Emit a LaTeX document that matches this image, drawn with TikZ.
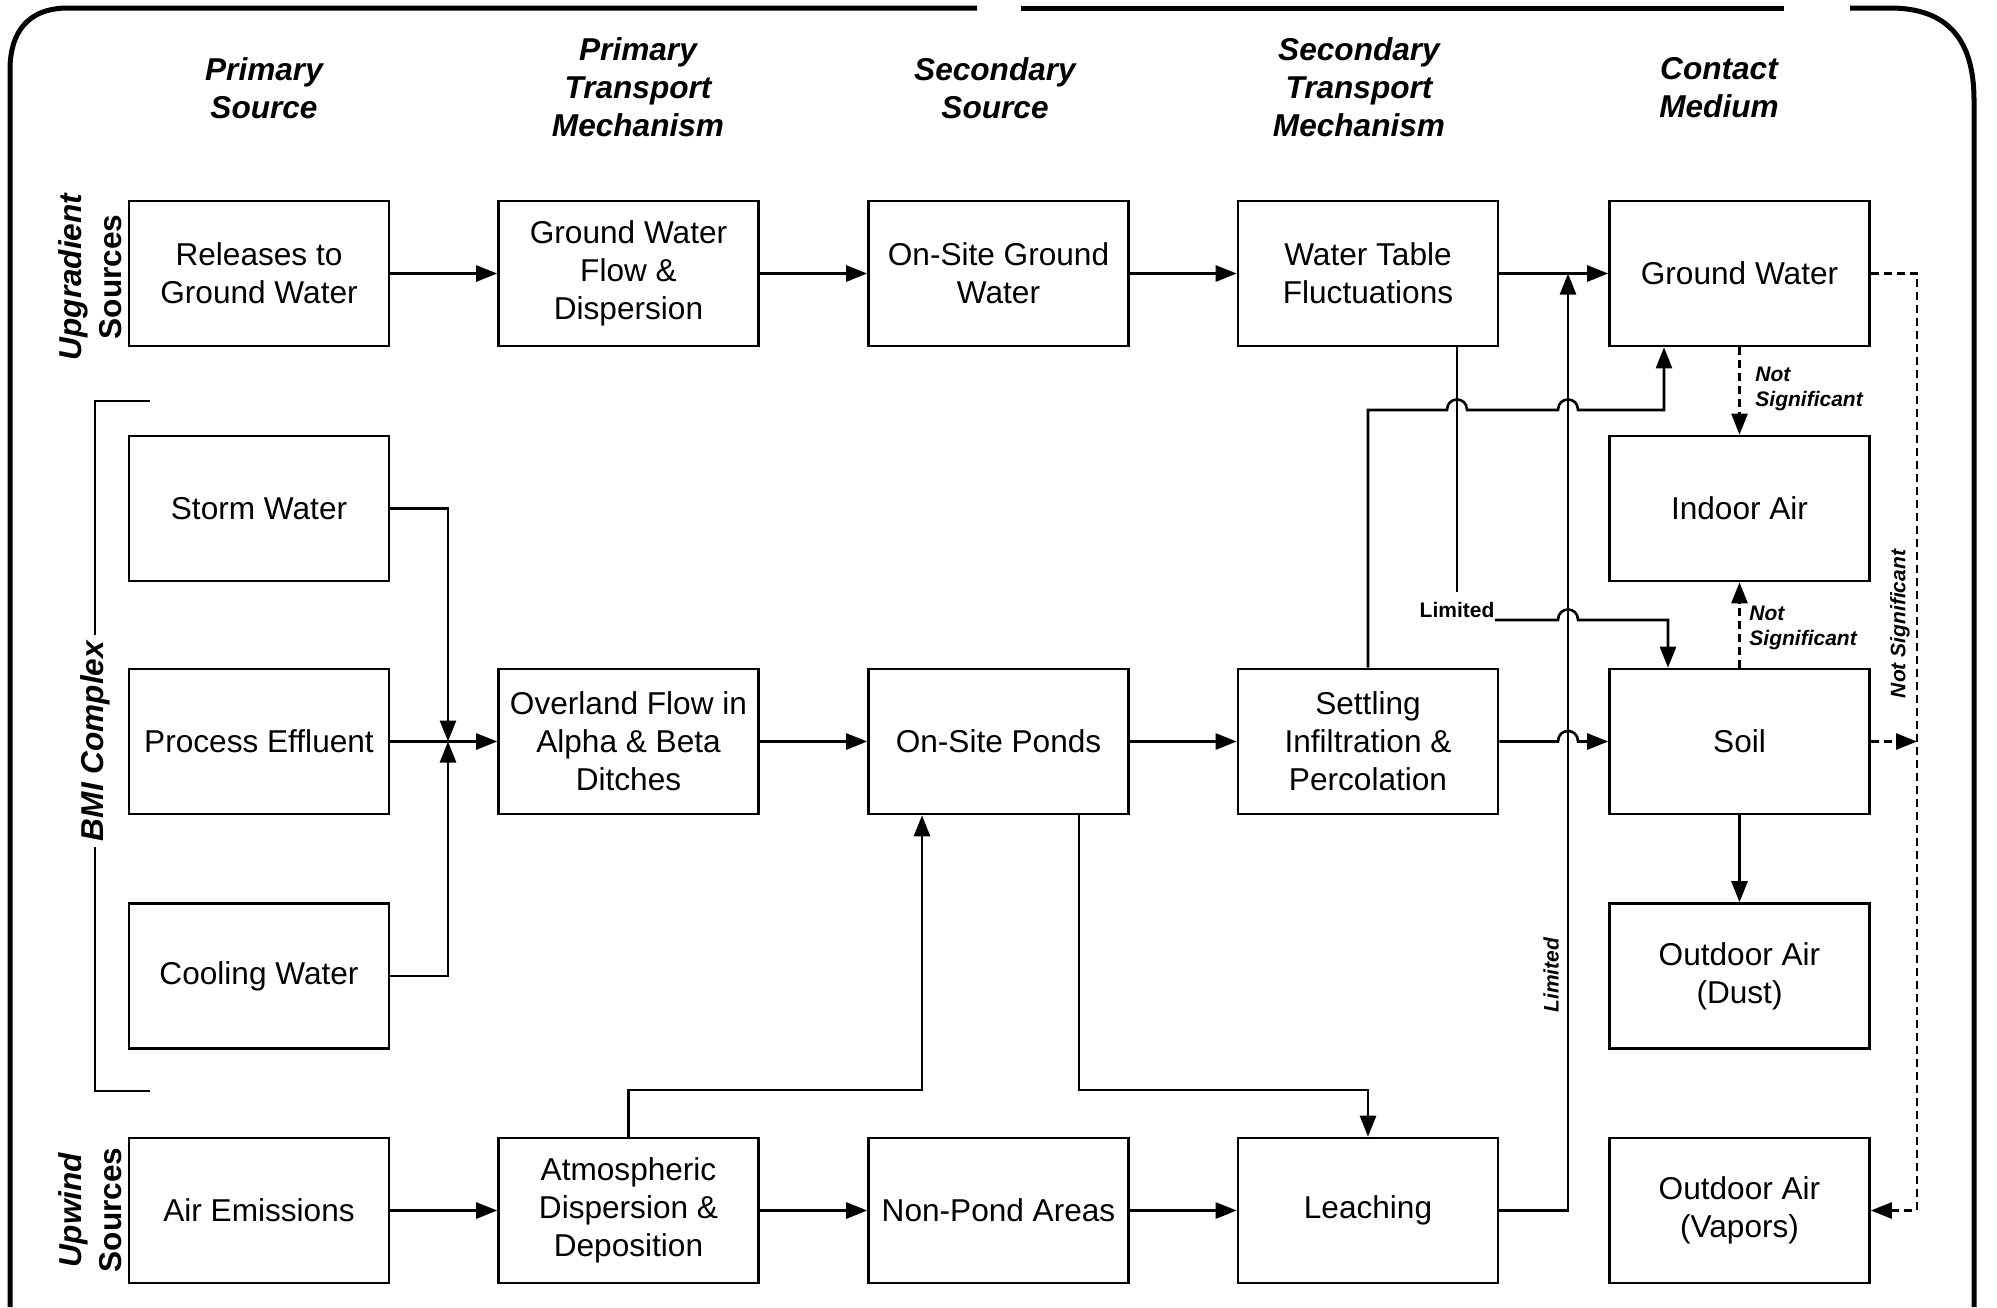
\documentclass[tikz,border=0pt]{standalone}
\usepackage{fontspec}
\setmainfont{Liberation Sans}
\usetikzlibrary{arrows.meta}
\begin{document}
\begin{tikzpicture}[x=0.5pt,y=-0.5pt,
  box/.style={draw, line width=1.3pt, minimum width=130pt, minimum height=72.5pt, inner sep=0pt, align=center, font=\fontsize{15.8}{19}\selectfont},
  hdr/.style={align=center, inner sep=0pt, font=\fontsize{15.8}{19}\selectfont\bfseries\itshape},
  side/.style={align=center, inner sep=0pt, font=\fontsize{15.8}{20}\selectfont\bfseries},
  lbl/.style={align=left, inner sep=0pt, font=\fontsize{10.5}{12.5}\selectfont\bfseries\itshape},
  lblu/.style={align=left, inner sep=0pt, font=\fontsize{10.5}{12.5}\selectfont\bfseries},
  wire/.style={line width=1.3pt},
  conn/.style={wire, -{Triangle[length=10.5pt,width=8pt]}},
  dconn/.style={conn, dash pattern=on 4pt off 2.5pt},
  frame/.style={line width=2.5pt}]
\useasboundingbox (0,0) rectangle (1997,1307);

% frame
\draw[frame] (10,1307) -- (10,70) .. controls (10,32) and (28,8) .. (68,8) -- (977,8);
\draw[frame] (1021,8) -- (1784,8);
\draw[frame] (1850,8) -- (1890,8) .. controls (1948,8) and (1974,40) .. (1974,100) -- (1974,1307);

% headers
\node[hdr] (h1) at (264,88) {Primary\\Source};
\node[hdr] (h2) at (638,87) {Primary\\Transport\\Mechanism};
\node[hdr] (h3) at (995,88) {Secondary\\Source};
\node[hdr] (h4) at (1359,87) {Secondary\\Transport\\Mechanism};
\node[hdr] (h5) at (1719,88) {Contact\\Medium};

% side labels
\node[side, rotate=90] (s1) at (90,277) {\itshape Upgradient\\Sources};
\node[side, rotate=90] (s2) at (90,1210) {\itshape Upwind\\Sources};
\node[side, rotate=90, inner xsep=3pt, font=\fontsize{15.8}{19}\selectfont\bfseries\itshape] (bmi) at (95,741) {BMI Complex};
\coordinate (bt) at (150,401);
\coordinate (bb) at (150,1091);
\draw[wire] (bt) -- (bmi.east |- bt) -- (bmi.east);
\draw[wire] (bmi.west) -- (bmi.west |- bb) -- (bb);

% boxes
\node[box] (rel) at (259,273.5) {Releases to\\Ground Water};
\node[box] (gwf) at (628.5,273.5) {Ground Water\\Flow \&\\Dispersion};
\node[box] (osgw) at (998.5,273.5) {On-Site Ground\\Water};
\node[box] (wt) at (1368,273.5) {Water Table\\Fluctuations};
\node[box] (gw) at (1739.5,273.5) {Ground Water};

\node[box] (storm) at (259,508.5) {Storm Water};
\node[box] (indoor) at (1739.5,508.5) {Indoor Air};

\node[box] (proc) at (259,741.5) {Process Effluent};
\node[box] (over) at (628.5,741.5) {Overland Flow in\\Alpha \& Beta\\Ditches};
\node[box] (ponds) at (998.5,741.5) {On-Site Ponds};
\node[box] (set) at (1368,741.5) {Settling\\Infiltration \&\\Percolation};
\node[box] (soil) at (1739.5,741.5) {Soil};

\node[box] (cool) at (259,976) {Cooling Water};
\node[box] (dust) at (1739.5,976) {Outdoor Air\\(Dust)};

\node[box] (air) at (259,1210.5) {Air Emissions};
\node[box] (atm) at (628.5,1210.5) {Atmospheric\\Dispersion \&\\Deposition};
\node[box] (np) at (998.5,1210.5) {Non-Pond Areas};
\node[box] (leach) at (1368,1210.5) {Leaching};
\node[box] (vap) at (1739.5,1210.5) {Outdoor Air\\(Vapors)};

% row 1
\draw[conn] (rel) -- (gwf);
\draw[conn] (gwf) -- (osgw);
\draw[conn] (osgw) -- (wt);
\draw[conn] (wt) -- (gw);

% merge of BMI sources
\coordinate (mrg) at (448,741.5);
\draw[conn] (storm.east) -| (mrg);
\draw[conn] (cool.east) -| (mrg);
\draw[conn] (proc) -- (over);
\draw[conn] (over) -- (ponds);
\draw[conn] (ponds) -- (set);

% row 5
\draw[conn] (air) -- (atm);
\draw[conn] (atm) -- (np);
\draw[conn] (np) -- (leach);

% ponds -> leaching, atmospheric -> ponds
\coordinate (pl1) at (1079,1090);
\draw[conn] (ponds.south -| pl1) -- (pl1) -| (leach.north);
\coordinate (ap1) at (922,1090);
\draw[conn] (atm.north) |- (ap1) -- (ponds.south -| ap1);

% leaching -> up (Limited)
\coordinate (lv) at (1568,273.5);
\draw[conn] (leach.east) -| (lv);
\node[lbl, rotate=90] (limv) at (1551,975) {Limited};

% water table -> Limited -> soil
\coordinate (wtd) at (1457,592);
\draw[wire] (wt.south -| wtd) -- (wtd);
\node[lblu] (lim1) at (1457,610) {Limited};
\coordinate (lh1) at (1668,620);
\draw[conn] (lim1.east |- lh1) -- (1558,620) .. controls (1558,606) and (1578,606) .. (1578,620) -- (lh1) -- (lh1 |- soil.north);

% settling -> ground water
\coordinate (sg1) at (1664,410);
\draw[conn] (set.north) -- (1368,410) -- (1447,410) .. controls (1447,396) and (1467,396) .. (1467,410)
  -- (1558,410) .. controls (1558,396) and (1578,396) .. (1578,410) -- (sg1) -- (sg1 |- gw.south);

% settling -> soil
\draw[conn] (set.east) -- (1558,741.5) .. controls (1558,727.5) and (1578,727.5) .. (1578,741.5) -- (soil.west);

% contact medium links
\draw[dconn] (gw.south) -- (indoor.north);
\node[lbl, anchor=west] (ns1) at (1755,389) {Not\\Significant};
\draw[dconn] (soil.north) -- (indoor.south);
\node[lbl, anchor=west] (ns2) at (1749,628) {Not\\Significant};
\draw[conn] (soil.south) -- (dust.north);

\coordinate (dv2) at (1917,1210.5);
\draw[dconn] (gw.east) -| (dv2) -- (vap.east);
\coordinate (dv3) at (1917,741.5);
\draw[dconn] (soil.east) -- (dv3);
\node[lbl, rotate=90] (ns3) at (1900,624) {Not Significant};
\end{tikzpicture}
\end{document}
